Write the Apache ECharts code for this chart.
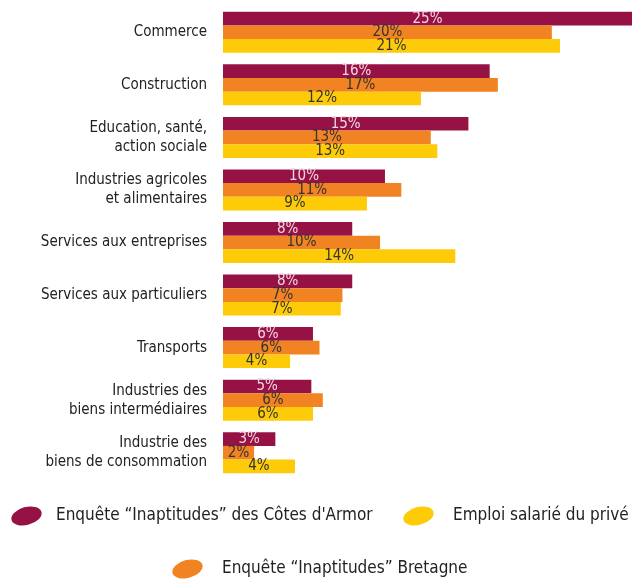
<!DOCTYPE html>
<html><head><meta charset="utf-8">
<script src="https://cdn.jsdelivr.net/npm/echarts@6/dist/echarts.min.js"></script>
<style>html,body{margin:0;padding:0;background:#fff}#c{width:639px;height:580px}</style>
</head><body><div id="c"></div>
<script>
const categories = ["Commerce","Construction","Education, santé,\naction sociale","Industries agricoles\net alimentaires","Services aux entreprises","Services aux particuliers","Transports","Industries des\nbiens intermédiaires","Industrie des\nbiens de consommation"];
const seriesNames = ["Enquête “Inaptitudes” des Côtes d'Armor","Enquête “Inaptitudes” Bretagne","Emploi salarié du privé"];
const cotesArmor = [25, 16.3, 15.0, 9.9, 7.9, 7.9, 5.5, 5.4, 3.2];
const bretagne = [20.1, 16.8, 12.7, 10.9, 9.6, 7.3, 5.9, 6.1, 1.9];
const emploi = [20.6, 12.1, 13.1, 8.8, 14.2, 7.2, 4.1, 5.5, 4.4];
const colors = ["#961245","#F28322","#FECB08"];
const font = "'Liberation Sans Narrow', 'DejaVu Sans Condensed', sans-serif";
const icon = 'path://M0.44,11.36 A13,7.5,-15,1,1,25.56,4.64 A13,7.5,-15,1,1,0.44,11.36Z';
const chart = echarts.init(document.getElementById('c'));
function mk(name, data, color, labelColor){
  return {name, type:'bar', data, barGap:'0%', barCategoryGap:'22%',
    itemStyle:{color},
    label:{show:true, position:'inside', color:labelColor, fontFamily:font, fontSize:15,
      formatter:p=>Math.round(p.value)+'%'}};
}
function lg(name, left, top, pad){
  return {data:[name], left, top, padding:0, icon, itemWidth:31, itemHeight:19, selectedMode:false,
    textStyle:{fontFamily:font, fontSize:17, color:'#222', padding:[0,0,0,pad]}};
}
chart.setOption({
  animation:false,
  color:colors,
  grid:{left:223, right:7, top:6, bottom:101, containLabel:false},
  xAxis:{type:'value', min:0, max:25, show:false},
  yAxis:{type:'category', data:categories, inverse:true,
    axisLine:{show:false}, axisTick:{show:false},
    axisLabel:{margin:16, fontFamily:font, fontSize:15, color:'#222', lineHeight:19, align:'right'}},
  legend:[lg(seriesNames[0],11,507,9), lg(seriesNames[2],403,507,14), lg(seriesNames[1],172,560,14)],
  series:[mk(seriesNames[0],cotesArmor,colors[0],'#F4D6E2'), mk(seriesNames[1],bretagne,colors[1],'#333'), mk(seriesNames[2],emploi,colors[2],'#333')]
});
</script></body></html>
